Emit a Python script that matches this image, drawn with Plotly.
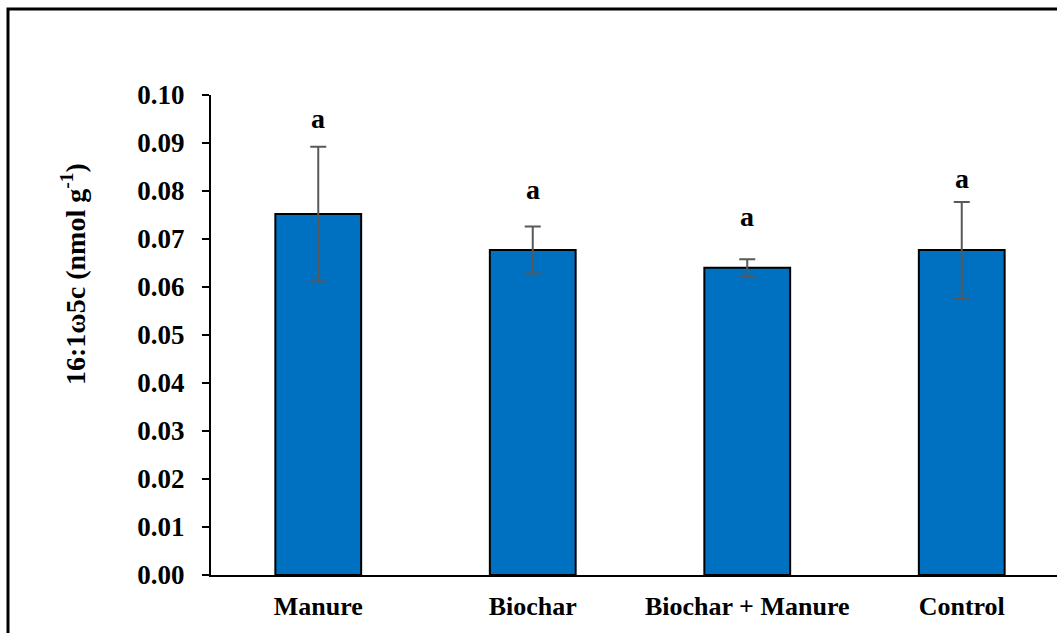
import plotly.graph_objects as go

categories = ["Manure", "Biochar", "Biochar + Manure", "Control"]
means = [0.0752, 0.0677, 0.0640, 0.0677]
errors = [0.0140, 0.0049, 0.0018, 0.0100]
letters = ["a", "a", "a", "a"]
letter_y = [0.0952, 0.0804, 0.0746, 0.0827]
y_ticks = [0.00, 0.01, 0.02, 0.03, 0.04, 0.05, 0.06, 0.07, 0.08, 0.09, 0.10]

FONT = "Liberation Serif, Times New Roman, serif"
W, H = 1057, 633
L, R, T, B = 211, 0, 95, 58
pw = W - L - R
ph = H - T - B

xs = list(range(len(categories)))

fig = go.Figure()
fig.add_trace(go.Bar(
    x=xs, y=means, width=0.4,
    marker=dict(color="#0070C0", line=dict(color="black", width=2)),
    error_y=dict(type="data", array=errors, visible=True,
                 color="#595959", thickness=2, width=8),
    showlegend=False,
))

for xi, txt, yy in zip(xs, letters, letter_y):
    fig.add_annotation(x=xi, y=yy, text=txt, showarrow=False,
                       font=dict(family=FONT, size=28, color="black", weight="bold"),
                       xanchor="center", yanchor="middle")

fig.add_annotation(xref="paper", yref="paper",
                   x=(73 - L) / pw, y=1 - (274 - T) / ph,
                   text="16:1ω5c (nmol g<sup>-1</sup>)", textangle=-90,
                   showarrow=False,
                   font=dict(family=FONT, size=28, color="black", weight="bold"),
                   xanchor="center", yanchor="middle")

# outer frame (cropped on the right and bottom)
fig.add_shape(type="rect", xref="paper", yref="paper",
              x0=(8 - L) / pw, x1=1.05, y0=-0.3, y1=1 + (T - 9) / ph,
              line=dict(color="black", width=3), fillcolor="rgba(0,0,0,0)",
              layer="above")

fig.update_layout(
    width=W, height=H,
    margin=dict(l=L, r=R, t=T, b=B),
    paper_bgcolor="white", plot_bgcolor="white",
    font=dict(family=FONT, color="black"),
)
fig.update_xaxes(
    range=[-0.5, (W - L) / 214.5 - 0.5],
    tickmode="array", tickvals=xs, ticktext=categories,
    showline=True, linecolor="black", linewidth=2,
    ticks="", showgrid=False, zeroline=False, ticklabelstandoff=7,
    tickfont=dict(family=FONT, size=26, color="black", weight="bold"),
)
fig.update_yaxes(
    range=[0, 0.1], tickmode="array", tickvals=y_ticks,
    ticktext=[f"{v:.2f}" for v in y_ticks],
    showline=True, linecolor="black", linewidth=2,
    ticks="outside", ticklen=7, tickwidth=2, tickcolor="black",
    showgrid=False, zeroline=False, ticklabelstandoff=12,
    tickfont=dict(family=FONT, size=27, color="black", weight="bold"),
)

fig.write_html("out.html", config={"displayModeBar": False},
               post_script="document.body.style.margin='0';document.body.style.overflow='hidden';")
